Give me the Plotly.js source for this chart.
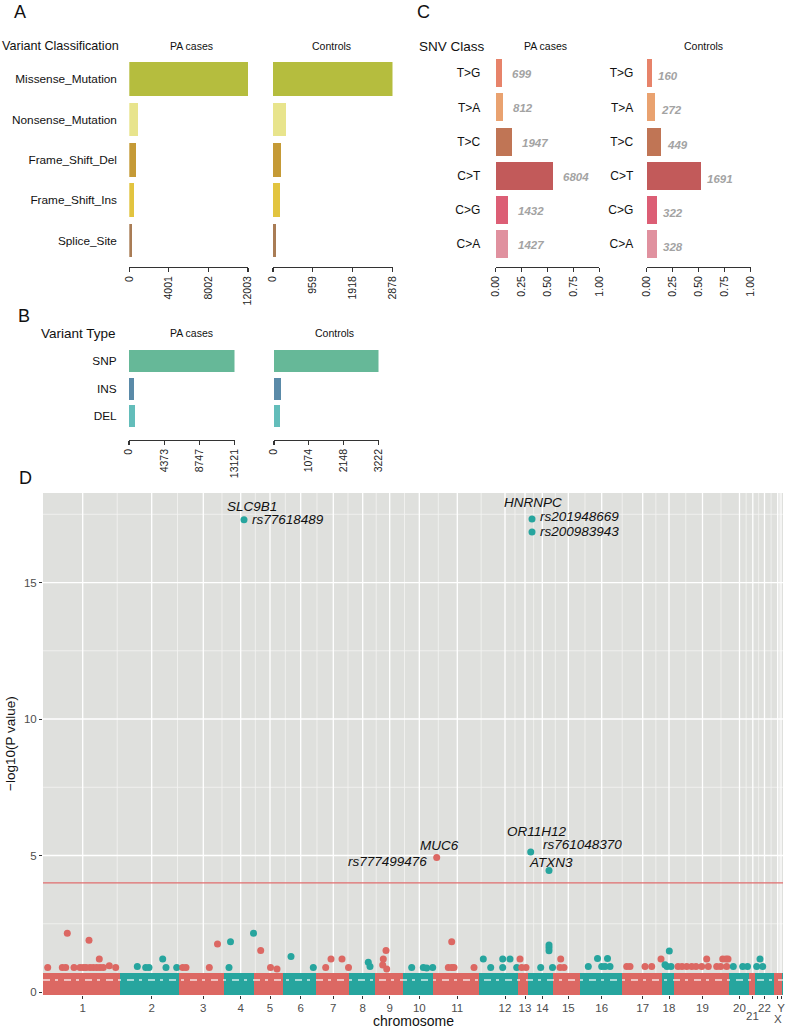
<!DOCTYPE html>
<html><head><meta charset="utf-8">
<script src="https://cdn.plot.ly/plotly-3.0.1.min.js"></script>
<style>html,body{margin:0;padding:0;background:#fff}#chart{width:787px;height:1030px}</style>
</head><body><div id="chart"></div>
<script>
// ================= DATA =================
// Panel A: variant classification
const varClassCategories = ['Missense_Mutation','Nonsense_Mutation','Frame_Shift_Del','Frame_Shift_Ins','Splice_Site'];
const varClassPA = [12003, 910, 680, 510, 230];
const varClassControls = [2878, 320, 200, 175, 65];
const varClassPATicks = [0, 4001, 8002, 12003];
const varClassControlsTicks = [0, 959, 1918, 2878];

// Panel B: variant type
const varTypeCategories = ['SNP','INS','DEL'];
const varTypePA = [13121, 620, 700];
const varTypeControls = [3222, 210, 200];
const varTypePATicks = [0, 4373, 8747, 13121];
const varTypeControlsTicks = [0, 1074, 2148, 3222];

// Panel C: SNV class
const snvCategories = ['T>G','T>A','T>C','C>T','C>G','C>A'];
const snvPACounts = [699, 812, 1947, 6804, 1432, 1427];
const snvControlsCounts = [160, 272, 449, 1691, 322, 328];
const snvPAFraction = [0.058, 0.066, 0.158, 0.556, 0.117, 0.117];
const snvControlsFraction = [0.050, 0.084, 0.139, 0.525, 0.100, 0.102];
const snvTicks = [0, 0.25, 0.5, 0.75, 1];

// Panel D: Manhattan plot (cumulative genomic position, arbitrary units)
const chrNames = ['1','2','3','4','5','6','7','8','9','10','11','12','13','14','15','16','17','18','19','20','21','22','X','Y'];
const chrStart = [0,77,136.3,181,211,239.7,273,306.3,332,360.3,390.3,436,474.7,485.3,509.7,537,578.7,618.7,630.7,685.7,705.7,712.3,730.7,738.5];
const chrEnd   = [77,136.3,181,211,239.7,273,306.3,332,360.3,390.3,436,474.7,485.3,509.7,537,578.7,618.7,630.7,685.7,705.7,712.3,730.7,738.5,740];
const chrTickPos = [39.7,108.7,160.3,197.7,227,257.7,290.3,319.7,346.7,376.3,414.3,462,482,499.3,525.3,558.7,599.7,626,659.5,696.5,709.8,721.5,734.7,738];
const denseBandLogP = [-0.12, 0.70];   // bulk of non-significant variants
const denseBandGapLogP = [0.44];       // empty p-value level inside the dense band
const sigThreshold = 4;
const yTicksD = [0, 5, 10, 15];
const yMinorD = [2.5, 7.5, 12.5, 17.5];

const hitChr = [
 1,1,1,1,1,1,1,1,1,1,1,1,1,1,1,1,1,
 2,2,2,2,2,2,
 3,3,3,3,
 4,4,4,
 5,5,5,
 6,6,
 7,7,7,7,
 8,8,
 9,9,9,9,
 10,10,10,10,
 11,11,11,11,11,
 12,12,12,12,12,12,
 13,13,13,
 14,14,14,14,14,
 15,15,15,
 16,16,16,16,16,16,
 17,17,17,17,17,
 18,18,18,18,
 19,19,19,19,19,19,19,19,19,19,19,19,19,19,
 20,20,20,
 22,22,22];
const hitPos = [
 24.3,46,56.3,4.7,19.3,22.7,31,37,40.3,43,47,50.3,53.7,57,60.3,66.3,72.7,
 94.3,102.7,106,119.7,123,133.7,
 139.7,143,166.3,174.5,
 186,187.5,210.5,
 217.7,227.5,234,
 248,270.3,
 282.7,288,299,305.5,
 325.3,327,
 343,340.3,339.7,343.7,
 368.7,380.3,383.7,389.7,
 405.3,408.7,411,408.7,431,
 440.3,447.7,459.7,467,459.7,473.7,
 477,478.7,483,
 497.7,506,506,506,509.5,
 517.7,517,521,
 545.3,554.5,564.5,558.7,562,567,
 583.7,587,602,608.7,618,
 626.3,622,624,628,
 635,639,643.7,648.7,653,658.7,663.7,665.3,673.7,677.7,679.7,683,685,683.7,
 690.3,699.7,704.5,
 717,713.7,719.7];
const hitLogP = [
 2.15,1.9,1.21,0.9,0.9,0.9,0.9,0.9,0.9,0.9,0.9,0.9,0.9,0.9,0.9,0.96,0.9,
 0.93,0.9,0.9,1.21,0.9,0.9,
 0.9,0.9,0.9,1.76,
 0.9,1.84,2.15,
 1.52,0.9,0.84,
 1.3,0.9,
 0.9,1.21,1.21,0.9,
 1.09,0.93,
 1.52,1.21,0.99,0.84,
 0.9,0.9,0.88,0.9,
 0.9,0.9,0.9,1.84,0.9,
 1.21,0.9,1.21,1.21,0.9,0.9,
 1.21,0.9,0.9,
 0.9,1.72,1.62,1.51,0.9,
 1.21,0.9,0.9,
 0.93,1.23,1.23,0.93,0.93,0.93,
 0.93,0.93,0.93,0.93,1.21,
 1.5,1.0,0.93,0.93,
 0.93,0.93,0.93,0.93,0.93,0.93,1.21,0.93,0.93,0.93,1.21,1.21,1.21,0.93,
 0.93,0.93,0.93,
 1.21,0.93,0.93];

const topChr  = [4, 14, 14, 11, 14, 14];
const topPos  = [201, 489, 489, 393.7, 487.7, 506];
const topLogP = [17.3, 17.33, 16.85, 4.93, 5.13, 4.45];
const topGene = ['SLC9B1', 'HNRNPC', '', 'MUC6', 'OR11H12', 'ATXN3'];
const topRsid = ['rs77618489', 'rs201948669', 'rs200983943', 'rs777499476', 'rs761048370', ''];

// ================= STYLE =================
const W = 787, H = 1030;
const PX = x => x / W;
const PY = y => (H - y) / H;
const FONT = 'Liberation Sans, Arial, Helvetica, sans-serif';
const RED = '#DC6863', TEAL = '#27A59E';
const varClassColors = ['#B5BD3E', '#E8E48C', '#C59A36', '#E2C43F', '#A97C55'];
const varTypeColors = ['#66B898', '#5A8AA8', '#63BDBA'];
const snvColors = ['#E7836A', '#E9A270', '#C07555', '#C25A5A', '#DC5E75', '#E0919F'];
const chrColor = c => (c % 2 === 1 ? RED : TEAL);

// label offsets for top hits (pixels): gene label, rsid label
const geneShift = [[8, 13], [1, 16.5], null, [3, 12], [6, 20], [1.5, 8]];
const rsidShift = [[6, 0, 'left'], [6, 2, 'left'], [6, 0.5, 'left'], [-8, -4.5, 'right'], [10, 7, 'left'], null];

const rev = a => a.slice().reverse();
const traces = [];
const annotations = [];
const shapes = [];

// ---- Panel A ----
traces.push({type:'bar', orientation:'h', x: varClassPA, y: varClassCategories, xaxis:'x', yaxis:'y',
  marker:{color: varClassColors}, width: 0.83, hoverinfo:'x+y'});
traces.push({type:'bar', orientation:'h', x: varClassControls, y: varClassCategories, xaxis:'x2', yaxis:'y2',
  marker:{color: varClassColors}, width: 0.83, hoverinfo:'x+y'});
// ---- Panel B ----
traces.push({type:'bar', orientation:'h', x: varTypePA, y: varTypeCategories, xaxis:'x3', yaxis:'y3',
  marker:{color: varTypeColors}, width: 0.8, hoverinfo:'x+y'});
traces.push({type:'bar', orientation:'h', x: varTypeControls, y: varTypeCategories, xaxis:'x4', yaxis:'y4',
  marker:{color: varTypeColors}, width: 0.8, hoverinfo:'x+y'});
// ---- Panel C ----
traces.push({type:'bar', orientation:'h', x: snvPAFraction, y: snvCategories, xaxis:'x5', yaxis:'y5',
  marker:{color: snvColors}, width: 0.82, hoverinfo:'x+y'});
traces.push({type:'bar', orientation:'h', x: snvControlsFraction, y: snvCategories, xaxis:'x6', yaxis:'y6',
  marker:{color: snvColors}, width: 0.82, hoverinfo:'x+y'});

snvCategories.forEach((c, i) => {
  annotations.push({xref:'x5', yref:'y5', x: snvPAFraction[i], y: c, text: String(snvPACounts[i]),
    showarrow:false, xanchor:'left', xshift: 8, yshift: -1,
    font:{family:FONT, size:11.5, color:'#A3A3A3', weight:'bold', style:'italic'}});
  annotations.push({xref:'x6', yref:'y6', x: snvControlsFraction[i], y: c, text: String(snvControlsCounts[i]),
    showarrow:false, xanchor:'left', xshift: 4, yshift: -3,
    font:{family:FONT, size:11.5, color:'#A3A3A3', weight:'bold', style:'italic'}});
});

// ---- Panel D ----
traces.push({type:'bar', x: chrNames.map((n,i)=>(chrStart[i]+chrEnd[i])/2), width: chrNames.map((n,i)=>chrEnd[i]-chrStart[i]),
  y: chrNames.map(()=>denseBandLogP[1]-denseBandLogP[0]), base: chrNames.map(()=>denseBandLogP[0]),
  xaxis:'x7', yaxis:'y7', marker:{color: chrNames.map((n,i)=>chrColor(i+1)), line:{width:0}}, hoverinfo:'skip'});
traces.push({type:'scatter', mode:'lines', x:[chrStart[0], chrEnd[chrEnd.length-1]],
  y:[denseBandGapLogP[0], denseBandGapLogP[0]], xaxis:'x7', yaxis:'y7',
  line:{color:'rgba(255,255,255,0.8)', width:1.3, dash:'7px,5px,3px,6px'}, hoverinfo:'skip'});
traces.push({type:'scatter', mode:'markers', x: hitPos, y: hitLogP, xaxis:'x7', yaxis:'y7',
  marker:{size:7, color: hitChr.map(chrColor), line:{width:0}}, hoverinfo:'x+y'});
traces.push({type:'scatter', mode:'markers', x: topPos, y: topLogP, xaxis:'x7', yaxis:'y7',
  marker:{size:7, color: topChr.map(chrColor), line:{width:0}}, hoverinfo:'x+y'});

topPos.forEach((p, i) => {
  const lf = {family:FONT, size:13.5, color:'#111', style:'italic'};
  if (topGene[i] && geneShift[i]) {
    annotations.push({xref:'x7', yref:'y7', x:p, y:topLogP[i], text: topGene[i], showarrow:false,
      xanchor:'center', yanchor:'middle', xshift: geneShift[i][0], yshift: geneShift[i][1], font: lf});
  }
  if (topRsid[i] && rsidShift[i]) {
    annotations.push({xref:'x7', yref:'y7', x:p, y:topLogP[i], text: topRsid[i], showarrow:false,
      xanchor: rsidShift[i][2], yanchor:'middle', xshift: rsidShift[i][0], yshift: rsidShift[i][1], font: lf});
  }
});

// panel background and gridlines (ggplot grey theme)
shapes.push({type:'rect', xref:'x7 domain', yref:'y7 domain', x0:0, x1:1, y0:0, y1:1,
  fillcolor:'#DFE0DD', line:{width:0}, layer:'below'});
const xMinorD = chrTickPos.slice(1).map((t,i)=>(t+chrTickPos[i])/2);
xMinorD.forEach(v => shapes.push({type:'line', xref:'x7', yref:'y7 domain', x0:v, x1:v, y0:0, y1:1,
  line:{color:'#F4F4F3', width:0.8}, layer:'below'}));
yMinorD.forEach(v => shapes.push({type:'line', xref:'x7 domain', yref:'y7', x0:0, x1:1, y0:v, y1:v,
  line:{color:'#F4F4F3', width:0.8}, layer:'below'}));
chrTickPos.forEach(v => shapes.push({type:'line', xref:'x7', yref:'y7 domain', x0:v, x1:v, y0:0, y1:1,
  line:{color:'#FFFFFF', width:1.3}, layer:'below'}));
yTicksD.forEach(v => shapes.push({type:'line', xref:'x7 domain', yref:'y7', x0:0, x1:1, y0:v, y1:v,
  line:{color:'#FFFFFF', width:1.3}, layer:'below'}));
shapes.push({type:'line', xref:'x7 domain', yref:'y7', x0:0, x1:1, y0:sigThreshold, y1:sigThreshold,
  line:{color:'#E06E6E', width:1.3}, layer:'above'});

// lowered tick labels (21, X)
['21','X'].forEach(n => {
  const i = chrNames.indexOf(n);
  annotations.push({xref:'x7', yref:'paper', x: chrTickPos[i], y: PY(n === 'X' ? 1018.5 : 1015.5), text: n, showarrow:false,
    xanchor:'center', yanchor:'middle', font:{family:FONT, size:11.5, color:'#4D4D4D'}});
});

// ---- Text labels ----
const txt = (x, y, t, size, anchor, extra) => Object.assign({xref:'paper', yref:'paper', x: PX(x), y: PY(y), text: t,
  showarrow:false, xanchor: anchor || 'center', yanchor:'middle', font:{family:FONT, size: size, color:'#111'}}, extra || {});
annotations.push(txt(20, 12, 'A', 18));
annotations.push(txt(24, 316, 'B', 18));
annotations.push(txt(423, 12, 'C', 18));
annotations.push(txt(25, 478, 'D', 18));
annotations.push(txt(0, 46, 'Variant Classification', 12.6, 'left'));
annotations.push(txt(191.7, 46, 'PA cases', 10.5));
annotations.push(txt(331.7, 46, 'Controls', 10.5));
annotations.push(txt(118.3, 333, 'Variant Type', 13.5, 'right'));
annotations.push(txt(191.7, 333, 'PA cases', 10.5));
annotations.push(txt(334.3, 333, 'Controls', 10.5));
annotations.push(txt(417, 46, 'SNV Class', 13.5, 'left'));
annotations.push(txt(545, 46, 'PA cases', 10.5));
annotations.push(txt(703.3, 46, 'Controls', 10.5));
annotations.push(txt(413, 1021, 'chromosome', 14));
annotations.push(txt(10, 744, '−log10(P value)', 13.5, 'center', {textangle:-90}));

// ================= AXES =================
const barX = (dom, range, ticks, fmt) => ({domain:[PX(dom[0]), PX(dom[1])], range: range, tickmode:'array', tickvals: ticks,
  tickformat: fmt || 'd', tickangle:-90, showline:true, linecolor:'#333', linewidth:1.3, ticks:'outside', ticklen:4,
  tickcolor:'#333', tickwidth:1.2, showgrid:false, zeroline:false, fixedrange:true,
  tickfont:{family:FONT, size:10.5, color:'#222'}});
const barY = (dom, cats, range, showLabels, size) => ({domain:[PY(dom[1]), PY(dom[0])], type:'category',
  categoryorder:'array', categoryarray: rev(cats), range: range, showline:false, showgrid:false, zeroline:false,
  ticks:'outside', ticklen: 9, tickcolor:'rgba(0,0,0,0)', showticklabels: showLabels, fixedrange:true,
  tickfont:{family:FONT, size: size || 11.8, color:'#111'}});

const layout = {
  width: W, height: H, margin:{l:0, r:0, t:0, b:0}, paper_bgcolor:'#fff', plot_bgcolor:'rgba(0,0,0,0)',
  showlegend:false, font:{family:FONT},
  xaxis:  Object.assign(barX([129.3, 248], [0, 12003], varClassPATicks), {anchor:'y'}),
  yaxis:  Object.assign(barY([55, 266.7], varClassCategories, [-0.649, 4.594], true), {anchor:'x'}),
  xaxis2: Object.assign(barX([273, 392.5], [0, 2878], varClassControlsTicks), {anchor:'y2'}),
  yaxis2: Object.assign(barY([55, 266.7], varClassCategories, [-0.649, 4.594], false), {anchor:'x2'}),
  xaxis3: Object.assign(barX([129, 234.5], [0, 13121], varTypePATicks), {anchor:'y3'}),
  yaxis3: Object.assign(barY([345, 439.5], varTypeCategories, [-0.84, 2.58], true), {anchor:'x3'}),
  xaxis4: Object.assign(barX([274, 378.5], [0, 3222], varTypeControlsTicks), {anchor:'y4'}),
  yaxis4: Object.assign(barY([345, 439.5], varTypeCategories, [-0.84, 2.58], false), {anchor:'x4'}),
  xaxis5: Object.assign(barX([495.7, 599.3], [0, 1], snvTicks, '.2f'), {anchor:'y5'}),
  yaxis5: Object.assign(barY([55, 266.7], snvCategories, [-0.658, 5.535], true, 12), {anchor:'x5', ticklen: 12}),
  xaxis6: Object.assign(barX([646.7, 750.7], [0, 1], snvTicks, '.2f'), {anchor:'y6'}),
  yaxis6: Object.assign(barY([55, 266.7], snvCategories, [-0.658, 5.535], true, 12), {anchor:'x6', ticklen: 10}),
  xaxis7: {domain:[PX(43), PX(783)], range:[0, 740], anchor:'y7', tickmode:'array', tickvals: chrTickPos,
    ticktext: chrNames.map(n => (n === '21' || n === 'X') ? '' : n), ticks:'outside', ticklen:2.5, tickcolor:'#333',
    tickwidth:1, showline:false, zeroline:false, showgrid:false, fixedrange:true,
    tickfont:{family:FONT, size:11.5, color:'#4D4D4D'}},
  yaxis7: {domain:[PY(995), PY(493)], range:[-0.11, 18.28], anchor:'x7', tickmode:'array', tickvals: yTicksD,
    ticks:'outside', ticklen:3, tickcolor:'#333', tickwidth:1, showline:false, zeroline:false, showgrid:false,
    fixedrange:true, tickfont:{family:FONT, size:11.5, color:'#4D4D4D'}},
  annotations: annotations, shapes: shapes, bargap: 0
};

Plotly.newPlot('chart', traces, layout, {displayModeBar:false, staticPlot:true});
</script></body></html>
